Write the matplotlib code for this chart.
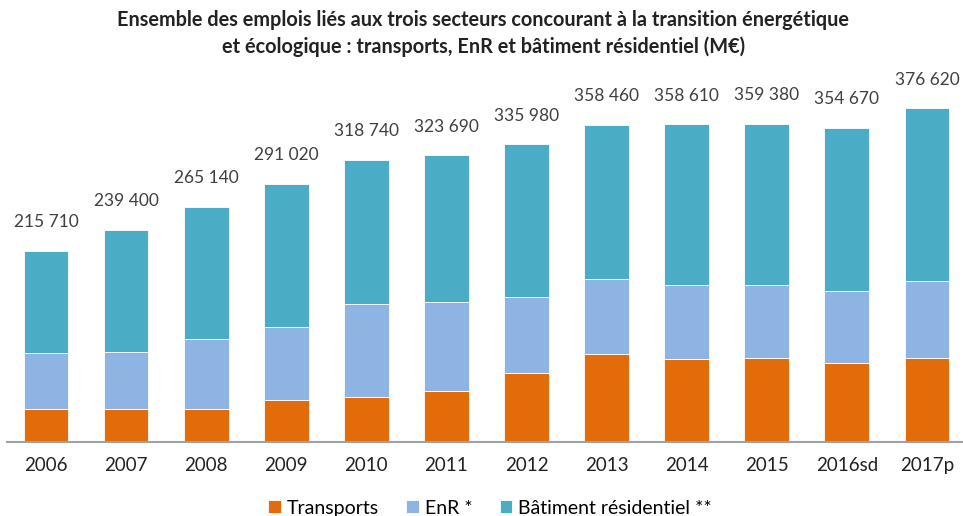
import numpy as np
import matplotlib
matplotlib.use("Agg")
import matplotlib.pyplot as plt

# Données (emplois)
years = ["2006", "2007", "2008", "2009", "2010", "2011",
         "2012", "2013", "2014", "2015", "2016sd", "2017p"]
totals = [215710, 239400, 265140, 291020, 318740, 323690,
          335980, 358460, 358610, 359380, 354670, 376620]
transports = [37900, 37900, 37900, 48000, 51400, 57500,
              78500, 99900, 93600, 95400, 89800, 95400]
enr = [62800, 64000, 78600, 81700, 104600, 100400,
       85400, 84300, 83800, 82000, 80900, 86500]
batiment = [t - a - b for t, a, b in zip(totals, transports, enr)]

series_names = ["Transports", "EnR *", "Bâtiment résidentiel **"]
colors = ["#E36C0A", "#8EB4E3", "#4BACC6"]

title = ("Ensemble des emplois liés aux trois secteurs concourant à la transition énergétique\n"
         "et écologique : transports, EnR et bâtiment résidentiel (M€)")

plt.rcParams["font.family"] = ["Lato", "DejaVu Sans"]

fig = plt.figure(figsize=(9.63, 5.16), dpi=100)
ax = fig.add_axes([0.007, 0.143, 0.993, 0.687])

x = np.arange(len(years))
width = 0.56
bottom = np.zeros(len(years))
for vals, name, col in zip([transports, enr, batiment], series_names, colors):
    ax.bar(x, vals, width, bottom=bottom, color=col, label=name,
           edgecolor="white", linewidth=0.6)
    bottom += np.array(vals)

for xi, tot in zip(x, totals):
    label = f"{tot:,}".replace(",", " ")
    ax.annotate(label, (xi, tot), xytext=(0, 15), textcoords="offset points",
                ha="center", va="bottom", fontsize=12.5, color="#404040")

ax.set_xlim(-0.49, 11.45)
ax.set_ylim(0, 400000)
ax.set_xticks(x)
ax.set_xticklabels(years, fontsize=13.5, color="#222222")
ax.tick_params(axis="x", length=0, pad=11)
ax.set_yticks([])
for s in ["top", "right", "left"]:
    ax.spines[s].set_visible(False)
ax.spines["bottom"].set_color("#A0A0A0")
ax.spines["bottom"].set_linewidth(1.5)

fig.text(0.502, 0.98, title, ha="center", va="top", fontsize=14.3,
         fontweight="bold", color="#222222", linespacing=1.35)

fig.legend(loc="lower center", bbox_to_anchor=(0.509, -0.035), ncol=3,
           frameon=False, fontsize=14, handlelength=0.65, handleheight=0.65,
           columnspacing=1.4, handletextpad=0.3)

fig.savefig("out.png", dpi=100)
